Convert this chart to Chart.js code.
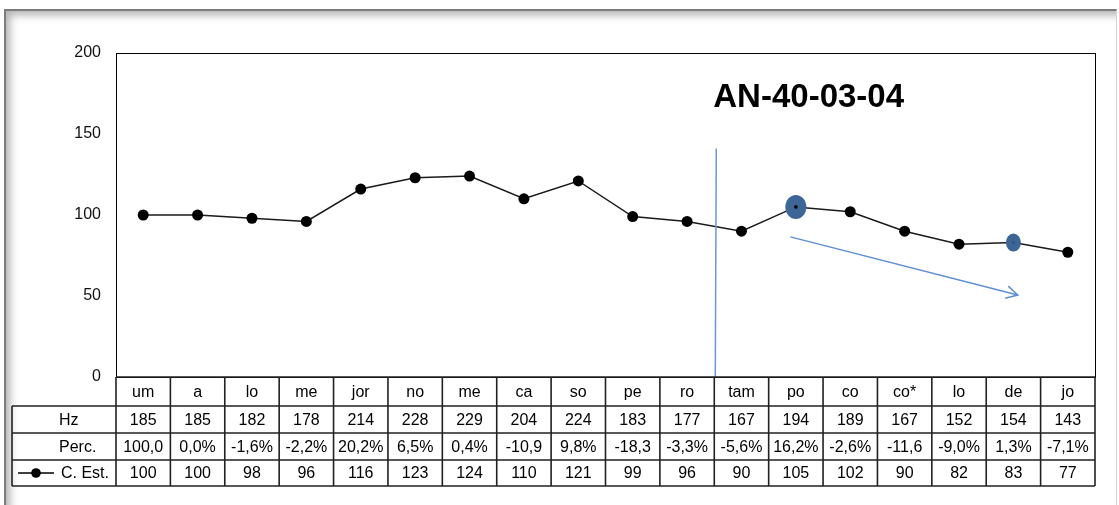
<!DOCTYPE html>
<html>
<head>
<meta charset="utf-8">
<script src="https://cdn.jsdelivr.net/npm/chart.js@4.4.1/dist/chart.umd.min.js"></script>
<style>
  html, body { margin: 0; padding: 0; background: #ffffff; width: 1119px; height: 505px; overflow: hidden; }
  #frame {
    position: absolute; left: 4px; top: 9px; width: 1110px; height: 520px;
    border-top: 2px solid #7c7c7c; border-left: 2px solid #7c7c7c; border-right: 1px solid #d6d6d6;
    box-shadow: inset 7px 7px 9px -3px rgba(0,0,0,0.30);
    background: #ffffff; z-index: 0;
  }
  #c { position: absolute; left: 0; top: 0; z-index: 1; }
</style>
</head>
<body>
<div id="frame"></div>
<canvas id="c" width="1119" height="505"></canvas>
<script>
// ---- data ----
const categories = ['um','a','lo','me','jor','no','me','ca','so','pe','ro','tam','po','co','co*','lo','de','jo'];
const hzValues   = [185,185,182,178,214,228,229,204,224,183,177,167,194,189,167,152,154,143];
const percLabels = ['100,0','0,0%','-1,6%','-2,2%','20,2%','6,5%','0,4%','-10,9','9,8%','-18,3','-3,3%','-5,6%','16,2%','-2,6%','-11,6','-9,0%','1,3%','-7,1%'];
const estValues  = [100,100,98,96,116,123,124,110,121,99,96,90,105,102,90,82,83,77];
const yTicks     = [0,50,100,150,200];
const rowLabels  = ['Hz','Perc.','C. Est.'];
const chartTitle = 'AN-40-03-04';
// annotations in data units (category index, value)
const highlightIdx = [12, 16];
const dividerAt    = [10.5, 141];
const titleAt      = [10.5, 172];
const trendArrow   = [[11.9, 86.5], [16.08, 50.6]];

const FONT = "'Liberation Sans', Arial, sans-serif";

const tablePlugin = {
  id: 'tableAndNotes',
  afterDatasetsDraw(chart) {
    const ctx = chart.ctx;
    const xs = chart.scales.x, ys = chart.scales.y;
    const a = chart.chartArea;
    const n = categories.length;
    const px = v => xs.getPixelForValue(v);
    const py = v => ys.getPixelForValue(v);

    // --- highlight ellipses ---
    ctx.save();
    highlightIdx.forEach((i, k) => {
      const cx = px(i), cy = py(estValues[i]);
      const rx = k === 0 ? 10.5 : 7.5, ry = k === 0 ? 12 : 9;
      ctx.fillStyle = '#3d6596';
      ctx.beginPath(); ctx.ellipse(cx, cy, rx, ry, 0, 0, Math.PI * 2); ctx.fill();
      ctx.fillStyle = k === 0 ? '#000' : '#2f4f78';
      ctx.beginPath(); ctx.arc(cx, cy, k === 0 ? 1.8 : 1.2, 0, Math.PI * 2); ctx.fill();
    });
    ctx.restore();

    // --- divider line ---
    ctx.save();
    ctx.strokeStyle = '#6a98d6'; ctx.lineWidth = 1.5;
    ctx.beginPath();
    ctx.moveTo(px(dividerAt[0]) + 2, py(dividerAt[1]));
    ctx.lineTo(px(dividerAt[0]) + 1, a.bottom);
    ctx.stroke();

    // --- trend arrow ---
    const x1 = px(trendArrow[0][0]), y1 = py(trendArrow[0][1]);
    const x2 = px(trendArrow[1][0]), y2 = py(trendArrow[1][1]);
    ctx.strokeStyle = '#5f8fd2'; ctx.lineWidth = 1.5;
    ctx.beginPath(); ctx.moveTo(x1, y1); ctx.lineTo(x2, y2); ctx.stroke();
    const ang = Math.atan2(y2 - y1, x2 - x1), L = 13, w = 0.5;
    ctx.beginPath();
    ctx.moveTo(x2 - L * Math.cos(ang - w), y2 - L * Math.sin(ang - w));
    ctx.lineTo(x2, y2);
    ctx.lineTo(x2 - L * Math.cos(ang + w), y2 - L * Math.sin(ang + w));
    ctx.stroke();

    // --- title ---
    ctx.fillStyle = '#000';
    ctx.font = 'bold 33px ' + FONT;
    ctx.textAlign = 'left'; ctx.textBaseline = 'middle';
    ctx.fillText(chartTitle, px(titleAt[0]) - 1, py(titleAt[1]));
    ctx.restore();

    // --- plot box ---
    ctx.save();
    ctx.strokeStyle = '#000'; ctx.lineWidth = 1;
    ctx.strokeRect(Math.round(a.left) + 0.5, Math.round(a.top) + 0.5, Math.round(a.right - a.left), Math.round(a.bottom - a.top));
    ctx.restore();

    // --- data table ---
    const rows = [a.bottom, 406, 433, 460, 486];
    const headL = 12;
    ctx.save();
    ctx.strokeStyle = '#222'; ctx.lineWidth = 1.6;
    ctx.beginPath();
    ctx.moveTo(a.left, rows[0]); ctx.lineTo(a.right, rows[0]);
    for (let r = 1; r < rows.length; r++) { ctx.moveTo(headL, rows[r]); ctx.lineTo(a.right, rows[r]); }
    ctx.moveTo(headL, rows[1]); ctx.lineTo(headL, rows[4]);
    ctx.moveTo(a.left, rows[0]); ctx.lineTo(a.left, rows[4]);
    for (let i = 0; i < n - 1; i++) { const x = px(i + 0.5); ctx.moveTo(x, rows[0]); ctx.lineTo(x, rows[4]); }
    ctx.moveTo(a.right, rows[0]); ctx.lineTo(a.right, rows[4]);
    ctx.stroke();

    ctx.fillStyle = '#000';
    ctx.font = '16px ' + FONT;
    ctx.textBaseline = 'middle'; ctx.textAlign = 'center';
    const rowVals = [categories, hzValues, percLabels, estValues];
    for (let r = 0; r < 4; r++) {
      const cy = (rows[r] + rows[r + 1]) / 2 + 1;
      rowVals[r].forEach((v, i) => ctx.fillText(String(v), px(i), cy));
    }
    ctx.textAlign = 'left';
    const hx = [59, 59, 61];
    rowLabels.forEach((t, k) => ctx.fillText(t, hx[k], (rows[k + 1] + rows[k + 2]) / 2 + 1));
    const ky = (rows[3] + rows[4]) / 2;
    ctx.strokeStyle = '#000'; ctx.lineWidth = 1.4;
    ctx.beginPath(); ctx.moveTo(18, ky); ctx.lineTo(54, ky); ctx.stroke();
    ctx.fillStyle = '#000';
    ctx.beginPath(); ctx.arc(36, ky, 4.8, 0, Math.PI * 2); ctx.fill();
    ctx.restore();
  }
};

new Chart(document.getElementById('c'), {
  type: 'line',
  data: {
    labels: categories,
    datasets: [{
      label: 'C. Est.',
      data: estValues,
      borderColor: '#1a1a1a',
      borderWidth: 1.5,
      pointRadius: 5.5,
      pointBackgroundColor: '#000',
      pointBorderColor: '#000',
      pointBorderWidth: 0,
      tension: 0
    }]
  },
  options: {
    responsive: false,
    animation: false,
    events: [],
    layout: { padding: { left: 0, top: 53, right: 24, bottom: 128 } },
    plugins: { legend: { display: false }, tooltip: { enabled: false }, title: { display: false } },
    scales: {
      x: { display: false, offset: true },
      y: {
        min: 0, max: 200,
        afterBuildTicks(s) { s.ticks = yTicks.map(v => ({ value: v })); },
        afterFit(s) { s.width = 116; },
        ticks: { padding: 15, color: '#111', font: { family: FONT, size: 16 } },
        grid: { display: false, drawTicks: false },
        border: { display: false }
      }
    }
  },
  plugins: [tablePlugin]
});
</script>
</body>
</html>
